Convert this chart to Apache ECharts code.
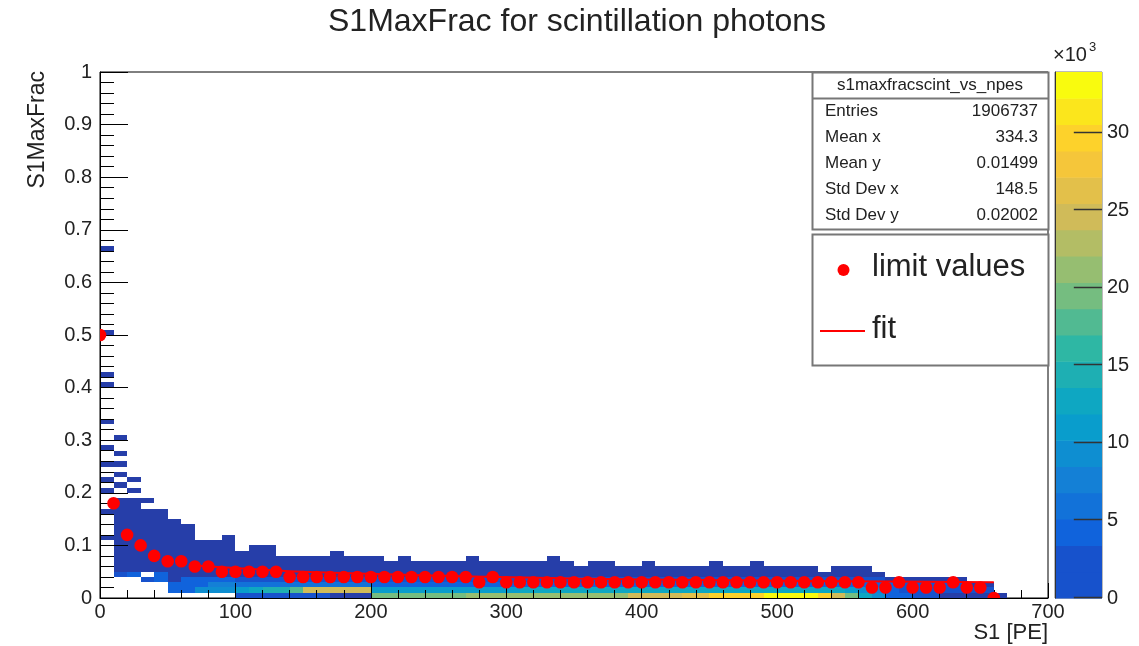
<!DOCTYPE html>
<html><head><meta charset="utf-8">
<script src="https://cdn.jsdelivr.net/npm/echarts@6/dist/echarts.min.js"></script>
<style>html,body{margin:0;padding:0;background:#fff}#c{width:1139px;height:646px}</style>
</head><body><div id="c"></div>
<script>
// ---------------- data ----------------
const xBinWidth = 10;      // S1 [PE] bin width
const yBinWidth = 0.01;    // S1MaxFrac bin width
// highest filled y-bin (index of 0.01 bins) for each 10-PE x-bin, -1 = empty
const topBin = [-1,18,18,18,16,14,13,10,10,11, 8,9,9,7,7,7,7,8,7,7,
  7,6,7,6,6,6,6,7,6,6, 6,6,6,7,6,5,6,6,5,5, 6,5,5,5,5,6,5,5,6,5,
  5,5,5,4,5,5,5,4,3,3, 3,3,3,3,2,2,0,-1,-1,-1];
// isolated low-count cells [xBin, yBin]
const strayCells = [[0,66],[0,50],[0,42],[0,40],[0,33],[0,28],[0,25],[0,22],[0,20],[0,16],[0,11],
  [1,30],[1,27],[1,25],[1,23],[1,21],[2,22],[2,20]];
const holeCells = [[3,17]];
const lowCount = 500;      // counts in the dark (lowest) cells
// counts (thousands) in the lowest y-bins, per x-bin
const row0 = [0,0,0,0,0,0,0,0,0,0, 3,3,3,3,3,3,3,1.2,1.2,1.2,
  20,20,20,20,20,20,20,21,21,21, 22,22,22,22,22,22,22,22,22,24, 24,24,24,26,26,29,29,29,29,33,
  33,33,33,30,25,19,13,8.5,5,3.5, 2,2,1.5,1.5,1.5,1.5,0.5,0,0,0];
const row1 = [0,0,0,0,0,3.5,3.5,10,10,10, 11,13,14,15,17,24,24,24,24,24,
  11,11,11,11,11,11,11,11,11,11, 11,12,12,12,12,12,12,12,12,12, 12,12,12,12,12,12,12,12,12,13,
  13,13,13,13,13,11,9,7,5,3, 3,3,3,2,2,2,0,0,0,0];
const row2 = [0,0,0,0,0,3.5,4,5,7,7, 6,6,6,6,6,6,6,6,6,6,
  5,5,5,5,5,5,5,5,5,5, 5,5,5,5,5,5,5,5,5,5, 5,5,5,5,5,5,5,5,5,5,
  5,5,5,5,5,5,4,4,4,2.5, 2.5,2.5,2.5,2.5,1.5,1.5,0,0,0,0];
const row3 = [0,0,0,3,5,1,3.5,3.5,3.5,3.5, 2.5,2.5,2.5,2.5,2.5,2.5,2.5,2.5,2.5,2.5,
  2.2,2.2,2.2,2.2,2.2,2.2,2.2,2.2,2.2,2.2, 2.2,2.2,2.2,2.2,2.2,2.2,2.2,2.2,2.2,2.2,
  2.2,2.2,2.2,2.2,2.2,2.2,2.2,2.2,2.2,2.2, 2.2,2.2,2.2,2.2,2.2,2.2,2.2,2.2,1,1, 1,1,1,1,0,0,0,0,0,0];
const row4 = [0,3,4,0,4,1,1,1,1,1, 1,1,1,1,1,1,1,1,1,1, 1,1,1,1,1,1,1,1,1,1, 1,1,1,1,1,1,1,1,1,1,
  1,1,1,1,1,1,1,1,1,1, 1,1,1,1,1,1,1,1,0,0, 0,0,0,0,0,0,0,0,0,0];
const limitX = [0,10,20,30,40,50,60,70,80,90, 100,110,120,130,140,150,160,170,180,190,
  200,210,220,230,240,250,260,270,280,290, 300,310,320,330,340,350,360,370,380,390,
  400,410,420,430,440,450,460,470,480,490, 500,510,520,530,540,550,560,570,580,590,
  600,610,620,630,640,650,660];
const limitY = [0.50,0.18,0.12,0.10,0.08,0.07,0.07,0.06,0.06,0.05, 0.05,0.05,0.05,0.05,0.04,0.04,0.04,0.04,0.04,0.04,
  0.04,0.04,0.04,0.04,0.04,0.04,0.04,0.04,0.03,0.04, 0.03,0.03,0.03,0.03,0.03,0.03,0.03,0.03,0.03,0.03,
  0.03,0.03,0.03,0.03,0.03,0.03,0.03,0.03,0.03,0.03, 0.03,0.03,0.03,0.03,0.03,0.03,0.03,0.02,0.02,0.03,
  0.02,0.02,0.02,0.03,0.02,0.02,0.00];
const fitX = [70,100,140,200,275,350,450,550,660];
const fitY = [0.062,0.057,0.051,0.046,0.041,0.037,0.034,0.032,0.030];
const statsTitle = 's1maxfracscint_vs_npes';
const statsNames = ['Entries','Mean x','Mean y','Std Dev x','Std Dev y'];
const statsValues = ['1906737','334.3','0.01499','148.5','0.02002'];
const zMax = 33900;        // top of colour scale
const zTicks = [0,5000,10000,15000,20000,25000,30000];

// ---------------- palette (ROOT kBird) ----------------
const birdStops = [0,0.125,0.25,0.375,0.5,0.625,0.75,0.875,1];
const birdR = [0.2082,0.0592,0.0780,0.0232,0.1802,0.5301,0.8186,0.9956,0.9764];
const birdG = [0.1664,0.3599,0.5041,0.6419,0.7178,0.7492,0.7328,0.7862,0.9832];
const birdB = [0.5293,0.8684,0.8385,0.7914,0.6425,0.4662,0.3499,0.1968,0.0539];
function bird(t){
  t = Math.max(0, Math.min(1, t));
  let i = 0; while (i < birdStops.length - 2 && t > birdStops[i+1]) i++;
  const f = (t - birdStops[i]) / (birdStops[i+1] - birdStops[i]);
  const c = a => Math.round(255 * (a[i] + (a[i+1]-a[i]) * f));
  return 'rgb(' + c(birdR) + ',' + c(birdG) + ',' + c(birdB) + ')';
}
const nBands = 20;
function bandColor(k){ return bird((k + 0.99) / nBands); }
function valueColor(v){ let k = Math.floor(v / zMax * nBands); k = Math.max(0, Math.min(nBands-1, k)); return bandColor(k); }

// ---------------- build cells ----------------
const lowRows = [row0,row1,row2,row3,row4];
const isHole = (i,j) => holeCells.some(h => h[0]===i && h[1]===j);
const cells = [];
for (let i = 0; i < topBin.length; i++) {
  for (let j = 0; j <= topBin[i]; j++) {
    if (isHole(i,j)) continue;
    const v = j < lowRows.length ? lowRows[j][i] * 1000 : lowCount;
    if (v > 0) cells.push([i * xBinWidth, j * yBinWidth, v]);
  }
}
strayCells.forEach(s => cells.push([s[0] * xBinWidth, s[1] * yBinWidth, lowCount]));
const bands = [];
for (let k = 0; k < nBands; k++) bands.push([k * zMax / nBands, (k + 1) * zMax / nBands, k]);

// ---------------- chart ----------------
const FONT = '"Liberation Sans", Arial, Helvetica, sans-serif';
const TXT = '#222';
const chart = echarts.init(document.getElementById('c'));
const statsGraphics = [];
statsGraphics.push({type:'rect', shape:{x:812.5,y:72.5,width:236,height:157}, style:{fill:'#fff', stroke:'#777', lineWidth:2}, z:20});
statsGraphics.push({type:'line', shape:{x1:812,y1:98.5,x2:1049,y2:98.5}, style:{stroke:'#777', lineWidth:2}, z:21});
statsGraphics.push({type:'text', x:930, y:85, style:{text:statsTitle, font:'17px '+FONT, fill:TXT, align:'center', verticalAlign:'middle'}, z:21});
statsNames.forEach((n, k) => {
  const yy = 111 + k * 26.2;
  statsGraphics.push({type:'text', x:825, y:yy, style:{text:n, font:'17px '+FONT, fill:TXT, align:'left', verticalAlign:'middle'}, z:21});
  statsGraphics.push({type:'text', x:1038, y:yy, style:{text:statsValues[k], font:'17px '+FONT, fill:TXT, align:'right', verticalAlign:'middle'}, z:21});
});
const legendGraphics = [
  {type:'rect', shape:{x:812.5,y:234.5,width:236,height:131}, style:{fill:'#fff', stroke:'#777', lineWidth:2}, z:20},
  {type:'circle', shape:{cx:843.5, cy:270, r:6}, style:{fill:'#ff0000'}, z:21},
  {type:'text', x:872, y:267, style:{text:'limit values', font:'31px '+FONT, fill:TXT, align:'left', verticalAlign:'middle'}, z:21},
  {type:'line', shape:{x1:820,y1:331,x2:865,y2:331}, style:{stroke:'#ff0000', lineWidth:2}, z:21},
  {type:'text', x:872, y:329, style:{text:'fit', font:'31px '+FONT, fill:TXT, align:'left', verticalAlign:'middle'}, z:21}
];

chart.setOption({
  animation: false,
  backgroundColor: '#fff',
  grid: [
    {left:100, top:72, width:948, height:526, show:true, borderColor:'#000', borderWidth:1, backgroundColor:'transparent'},
    {left:1055, top:72, width:47, height:526, show:true, borderColor:'#777', borderWidth:1, backgroundColor:'transparent'}
  ],
  xAxis: [
    {gridIndex:0, type:'value', min:0, max:700, interval:100, z:4,
     axisLine:{show:true, lineStyle:{color:'#000', width:1}},
     axisTick:{show:true, inside:true, length:15, lineStyle:{color:'#000', width:1}},
     minorTick:{show:true, splitNumber:5, length:8, lineStyle:{color:'#000', width:1}},
     splitLine:{show:false}, minorSplitLine:{show:false},
     axisLabel:{fontSize:20, color:TXT, margin:4, fontFamily:FONT}},
    {gridIndex:1, type:'value', min:0, max:1, show:false}
  ],
  yAxis: [
    {gridIndex:0, type:'value', min:0, max:1, interval:0.1, z:4,
     axisLine:{show:true, lineStyle:{color:'#000', width:1}},
     axisTick:{show:true, inside:true, length:28, lineStyle:{color:'#000', width:1}},
     minorTick:{show:true, splitNumber:5, length:14, lineStyle:{color:'#000', width:1}},
     splitLine:{show:false}, minorSplitLine:{show:false},
     axisLabel:{fontSize:20, color:TXT, margin:8, fontFamily:FONT, formatter: v => String(+v.toFixed(2))}},
    {gridIndex:1, type:'value', min:0, max:zMax, interval:5000, position:'right', z:4,
     axisLine:{show:true, lineStyle:{color:'#333', width:1}},
     axisTick:{show:false},
     splitLine:{show:false},
     axisLabel:{fontSize:20, color:TXT, margin:5, fontFamily:FONT, showMaxLabel:false, formatter: v => String(Math.round(v/1000))}}
  ],
  series: [
    {type:'custom', name:'hist', xAxisIndex:0, yAxisIndex:0, data:cells, z:1,
     encode:{x:0, y:1},
     renderItem(params, api){
       const x0 = api.value(0), y0 = api.value(1), v = api.value(2);
       const a = api.coord([x0, y0 + yBinWidth]);
       const b = api.coord([x0 + xBinWidth, y0]);
       const xa = Math.round(a[0]), ya = Math.round(a[1]);
       return {type:'rect', shape:{x:xa, y:ya, width:Math.round(b[0])-xa, height:Math.round(b[1])-ya},
               style:{fill:valueColor(v)}};
     }},
    {type:'line', name:'fit', xAxisIndex:0, yAxisIndex:0, data:fitX.map((x,i)=>[x,fitY[i]]),
     smooth:0.4, showSymbol:false, z:5, lineStyle:{color:'#ff0000', width:2}},
    {type:'custom', name:'limit values', xAxisIndex:0, yAxisIndex:0, z:6,
     data:limitX.map((x,i)=>[x,limitY[i]]), encode:{x:0, y:1},
     renderItem(params, api){
       const p = api.coord([api.value(0), api.value(1)]);
       const cs = params.coordSys;
       return {type:'group',
               clipPath:{type:'rect', shape:{x:cs.x, y:cs.y, width:cs.width, height:cs.height}},
               children:[{type:'circle', shape:{cx:p[0], cy:p[1], r:6.3}, style:{fill:'#ff0000'}}]};
     }},
    {type:'custom', name:'palette', xAxisIndex:1, yAxisIndex:1, data:bands, z:1,
     encode:{y:[0,1]},
     renderItem(params, api){
       const a = api.coord([0, api.value(1)]);
       const b = api.coord([1, api.value(0)]);
       return {type:'rect', shape:{x:a[0], y:a[1], width:b[0]-a[0], height:b[1]-a[1]+0.5},
               style:{fill:bandColor(Math.max(1, api.value(2)))}};
     }},
    {type:'custom', name:'paletteTicks', xAxisIndex:1, yAxisIndex:1, data:zTicks.map(v=>[v]), z:3,
     encode:{y:0},
     renderItem(params, api){
       const a = api.coord([0.4, api.value(0)]);
       const b = api.coord([1, api.value(0)]);
       const yy = Math.round(a[1]) - 0.5;
       return {type:'line', shape:{x1:a[0], y1:yy, x2:b[0], y2:yy}, style:{stroke:'#333', lineWidth:1.5}};
     }}
  ],
  graphic: [
    {type:'text', x:577, y:22, style:{text:'S1MaxFrac for scintillation photons', font:'32px '+FONT, fill:TXT, align:'center', verticalAlign:'middle'}},
    {type:'text', x:38, y:71, rotation:Math.PI/2, style:{text:'S1MaxFrac', font:'23px '+FONT, fill:TXT, align:'right', verticalAlign:'middle'}},
    {type:'text', x:1048, y:633, style:{text:'S1 [PE]', font:'22px '+FONT, fill:TXT, align:'right', verticalAlign:'middle'}},
    {type:'text', x:1053, y:55, style:{text:'×10', font:'20px '+FONT, fill:TXT, align:'left', verticalAlign:'middle'}},
    {type:'text', x:1089, y:47, style:{text:'3', font:'13px '+FONT, fill:TXT, align:'left', verticalAlign:'middle'}}
  ].concat(statsGraphics, legendGraphics)
});
</script></body></html>
